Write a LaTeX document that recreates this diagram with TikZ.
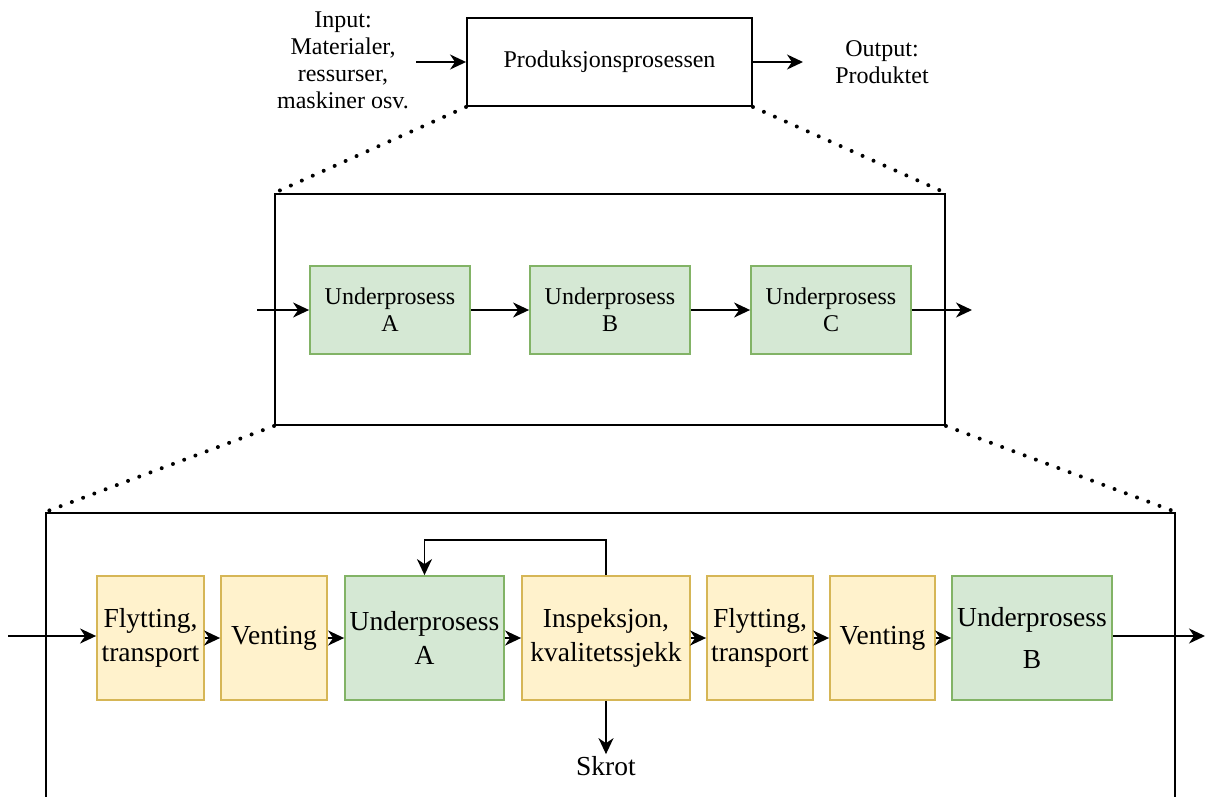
\documentclass[tikz,border=0pt]{standalone}
\usepackage{fontspec}
\setmainfont{Liberation Serif}
\usetikzlibrary{arrows.meta,calc}

\definecolor{ylwfill}{HTML}{FFF2CC}
\definecolor{ylwline}{HTML}{D6B656}
\definecolor{grnfill}{HTML}{D5E8D4}
\definecolor{grnline}{HTML}{82B366}

\tikzset{
  txtS/.style={font=\rmfamily\fontsize{24}{27}\selectfont, align=center, text=black},
  txtL/.style={font=\rmfamily\fontsize{27.5}{33.5}\selectfont, align=center, text=black},
  frame/.style={draw=black, line width=1.9pt, fill=white, inner sep=0pt},
  greenbox/.style={draw=grnline, fill=grnfill, line width=1.8pt, inner sep=0pt},
  yellowbox/.style={draw=ylwline, fill=ylwfill, line width=1.8pt, inner sep=0pt},
  arr/.style={line width=1.8pt, -{Stealth[length=16pt,width=15pt,inset=5pt]}},
  dots/.style={line width=4pt, line cap=round, dash pattern=on 0pt off 12pt},
}

\begin{document}
\begin{tikzpicture}[x=1pt,y=-1pt]
\useasboundingbox (0,0) rectangle (1211,796);
\clip (0,0) rectangle (1211,796);

% ---- overall process ----
\node[frame, minimum width=285, minimum height=88, txtS] (top) at (609.5,62) {Produksjonsprosessen};
\node[txtS] (inp) at (343,60) {Input:\\Materialer,\\ressurser,\\maskiner osv.};
\node[txtS] (outp) at (882,62) {Output:\\Produktet};
\coordinate (inpEnd) at (416,62);
\coordinate (outEnd) at (803,62);
\draw[arr] (inpEnd) -- (top.west);
\draw[arr] (top.east) -- (outEnd);

% ---- sub-processes ----
\node[frame, minimum width=670, minimum height=231] (mid) at (610,309.5) {};
\node[greenbox, minimum width=160, minimum height=88, txtS] (mA) at (390,310) {Underprosess\\A};
\node[greenbox, minimum width=160, minimum height=88, txtS] (mB) at (610,310) {Underprosess\\B};
\node[greenbox, minimum width=160, minimum height=88, txtS] (mC) at (831,310) {Underprosess\\C};
\coordinate (midIn) at (257,310);
\coordinate (midOut) at (972,310);
\draw[arr] (midIn) -- (mA.west);
\draw[arr] (mA.east) -- (mB.west);
\draw[arr] (mB.east) -- (mC.west);
\draw[arr] (mC.east) -- (midOut);

\draw[dots] (top.south west) -- (mid.north west);
\draw[dots] (top.south east) -- (mid.north east);

% ---- detailed flow ----
\node[frame, minimum width=1129, minimum height=340] (bot) at (610.5,683) {};
\draw[dots] (mid.south west) -- (bot.north west);
\draw[dots] (mid.south east) -- (bot.north east);

\node[yellowbox, minimum width=107, minimum height=124, txtL] (b1) at (150.5,638) {Flytting,\\transport};
\node[yellowbox, minimum width=106, minimum height=124, txtL] (b2) at (274,638) {Venting};
\node[greenbox,  minimum width=159, minimum height=124, txtL] (b3) at (424.5,638) {Underprosess\\A};
\node[yellowbox, minimum width=168, minimum height=124, txtL] (b4) at (606,638) {Inspeksjon,\\kvalitetssjekk};
\node[yellowbox, minimum width=106, minimum height=124, txtL] (b5) at (760,638) {Flytting,\\transport};
\node[yellowbox, minimum width=105, minimum height=124, txtL] (b6) at (882.5,638) {Venting};
\node[greenbox,  minimum width=160, minimum height=124, txtL] (b7) at (1032,638) {Underprosess\\[8pt]B};
\node[txtL, inner sep=2pt] (skrot) at (606,766) {Skrot};

\coordinate (botIn) at (8,636);
\coordinate (botOut) at (1205,636);
\draw[arr] (botIn) -- (botIn -| b1.west);
\draw[arr] (b1.east) -- (b2.west);
\draw[arr] (b2.east) -- (b3.west);
\draw[arr] (b3.east) -- (b4.west);
\draw[arr] (b4.east) -- (b5.west);
\draw[arr] (b5.east) -- (b6.west);
\draw[arr] (b6.east) -- (b7.west);
\draw[arr] (botOut -| b7.east) -- (botOut);
\draw[arr] (b4.north) -- ++(0,-35) -| (b3.north);
\draw[arr] (b4.south) -- (skrot.north);

\end{tikzpicture}
\end{document}
